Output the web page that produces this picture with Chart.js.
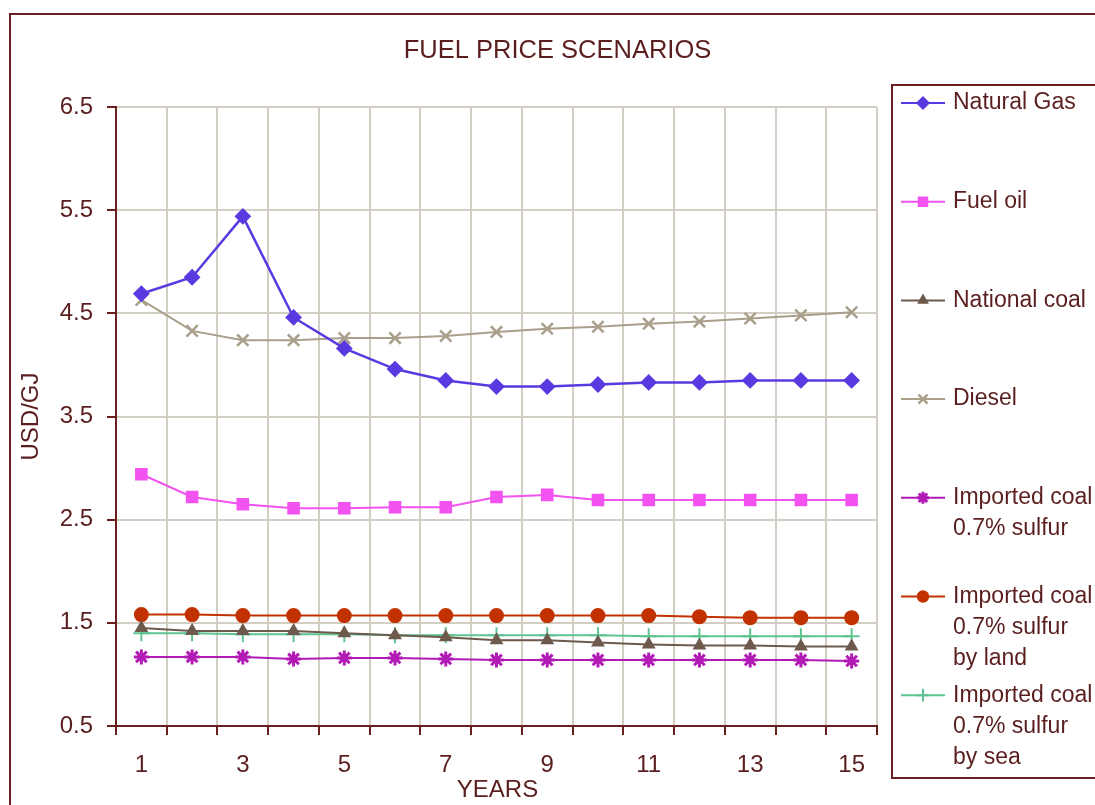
<!DOCTYPE html>
<html>
<head>
<meta charset="utf-8">
<title>Fuel price scenarios</title>
<script src="https://cdn.jsdelivr.net/npm/chart.js@4.4.1/dist/chart.umd.min.js"></script>
<style>
  html, body { margin: 0; padding: 0; background: #ffffff; }
  canvas { display: block; }
</style>
</head>
<body>
<canvas id="chart" width="1095" height="805"></canvas>
<script>
// Years on the horizontal axis
const years = ['1','2','3','4','5','6','7','8','9','10','11','12','13','14','15'];

// Price per fuel, USD/GJ
const naturalGas     = [4.69, 4.85, 5.44, 4.46, 4.16, 3.96, 3.85, 3.79, 3.79, 3.81, 3.83, 3.83, 3.85, 3.85, 3.85];
const fuelOil        = [2.94, 2.72, 2.65, 2.61, 2.61, 2.62, 2.62, 2.72, 2.74, 2.69, 2.69, 2.69, 2.69, 2.69, 2.69];
const nationalCoal   = [1.45, 1.42, 1.42, 1.42, 1.40, 1.38, 1.36, 1.33, 1.33, 1.31, 1.29, 1.28, 1.28, 1.27, 1.27];
const diesel         = [4.63, 4.33, 4.24, 4.24, 4.26, 4.26, 4.28, 4.32, 4.35, 4.37, 4.40, 4.42, 4.45, 4.48, 4.51];
const importedCoal   = [1.17, 1.17, 1.17, 1.15, 1.16, 1.16, 1.15, 1.14, 1.14, 1.14, 1.14, 1.14, 1.14, 1.14, 1.13];
const importedLand   = [1.58, 1.58, 1.57, 1.57, 1.57, 1.57, 1.57, 1.57, 1.57, 1.57, 1.57, 1.56, 1.55, 1.55, 1.55];
const importedSea    = [1.40, 1.40, 1.39, 1.39, 1.39, 1.38, 1.38, 1.38, 1.38, 1.38, 1.37, 1.37, 1.37, 1.37, 1.37];

// Series names (multi-line entries in the legend)
const seriesNames = [
  ['Natural Gas'],
  ['Fuel oil'],
  ['National coal'],
  ['Diesel'],
  ['Imported coal', '0.7% sulfur'],
  ['Imported coal', '0.7% sulfur', 'by land'],
  ['Imported coal', '0.7% sulfur', 'by sea']
];

// Y-axis range
const yMin = 0.5, yMax = 6.5, yStep = 1;

const FONT = "'Liberation Sans', Arial, sans-serif";
const INK = '#5a1e1e';
const AXIS = '#6a1f1f';
const GRID = '#d2cec3';

function series(name, data, color, style, radius, markWidth, lineWidth) {
  return {
    label: name,
    data: data,
    borderColor: color,
    backgroundColor: color,
    pointBackgroundColor: color,
    pointBorderColor: color,
    pointStyle: style,
    pointRadius: radius,
    pointBorderWidth: markWidth,
    borderWidth: lineWidth,
    tension: 0,
    fill: false
  };
}

const datasets = [
  series(seriesNames[0], naturalGas,   '#5a3ae0', 'rectRot',  7,   2,   2.5),
  series(seriesNames[1], fuelOil,      '#f252ef', 'rect',     7.5, 2,   2),
  series(seriesNames[2], nationalCoal, '#6e5a4c', 'triangle', 6,   2,   2),
  series(seriesNames[3], diesel,       '#a99f8b', 'crossRot', 8,   2.5, 2),
  series(seriesNames[4], importedCoal, '#b21ab6', 'star',     7.5, 3,   2),
  series(seriesNames[5], importedLand, '#c23200', 'circle',   6.5, 2,   2),
  series(seriesNames[6], importedSea,  '#5ec492', 'cross',    8,   2,   2)
];

// Frame, titles and the boxed legend
const decorations = {
  id: 'decorations',
  afterDraw(chart) {
    const ctx = chart.ctx;
    const area = chart.chartArea;
    ctx.save();

    // outer frame
    ctx.strokeStyle = AXIS;
    ctx.lineWidth = 2;
    ctx.strokeRect(10, 14, 1300, 1000);

    ctx.fillStyle = INK;
    ctx.textAlign = 'center';
    ctx.textBaseline = 'middle';

    // chart title
    ctx.font = '25.5px ' + FONT;
    ctx.fillText('FUEL PRICE SCENARIOS', (area.left + area.right) / 2 + 61, 51);

    // axis titles
    ctx.font = '24px ' + FONT;
    ctx.fillText('YEARS', (area.left + area.right) / 2 + 1, 790);
    ctx.save();
    ctx.translate(31, (area.top + area.bottom) / 2);
    ctx.rotate(-Math.PI / 2);
    ctx.fillText('USD/GJ', 0, 0);
    ctx.restore();

    // legend box
    const boxX = 892, boxY = 85, boxH = 693;
    ctx.strokeStyle = AXIS;
    ctx.lineWidth = 2;
    ctx.strokeRect(boxX, boxY, 400, boxH);

    const rowStart = 103, rowGap = 98.7, lineH = 31.3;
    ctx.textAlign = 'left';
    ctx.font = '23px ' + FONT;
    chart.data.datasets.forEach((ds, i) => {
      const y = rowStart + i * rowGap;
      ctx.strokeStyle = ds.borderColor;
      ctx.lineWidth = 2;
      ctx.beginPath();
      ctx.moveTo(901, y);
      ctx.lineTo(945, y);
      ctx.stroke();
      ctx.fillStyle = ds.backgroundColor;
      ctx.strokeStyle = ds.borderColor;
      ctx.lineWidth = ds.pointBorderWidth;
      Chart.helpers.drawPoint(ctx, {
        pointStyle: ds.pointStyle,
        radius: ds.pointRadius * 0.8,
        rotation: 0,
        borderWidth: ds.pointBorderWidth
      }, 923, y);
      ctx.fillStyle = INK;
      ds.label.forEach((line, k) => {
        ctx.fillText(line, 953, y + k * lineH);
      });
    });

    ctx.restore();
  }
};

new Chart(document.getElementById('chart'), {
  type: 'line',
  data: { labels: years, datasets: datasets },
  options: {
    responsive: false,
    animation: false,
    layout: { padding: { left: 0, top: 107, right: 218, bottom: 0 } },
    plugins: {
      legend: { display: false },
      tooltip: { enabled: false },
      title: { display: false }
    },
    scales: {
      x: {
        type: 'category',
        offset: true,
        grid: {
          offset: true,
          color: GRID,
          lineWidth: 2,
          tickColor: AXIS,
          tickLength: 9,
          tickWidth: 2
        },
        border: { color: AXIS, width: 2 },
        ticks: {
          autoSkip: false,
          maxRotation: 0,
          padding: 16,
          color: INK,
          font: { family: FONT, size: 24 },
          callback: (v, i) => (i % 2 === 0 ? years[i] : '')
        },
        afterFit: (s) => { s.height = 79; }
      },
      y: {
        min: yMin,
        max: yMax,
        grid: {
          color: GRID,
          lineWidth: 2,
          tickColor: AXIS,
          tickLength: 9,
          tickWidth: 2
        },
        border: { color: AXIS, width: 2 },
        ticks: {
          stepSize: yStep,
          padding: 14,
          color: INK,
          font: { family: FONT, size: 24 },
          callback: (v) => Number(v).toFixed(1)
        },
        afterFit: (s) => { s.width = 116; }
      }
    }
  },
  plugins: [decorations]
});
</script>
</body>
</html>
